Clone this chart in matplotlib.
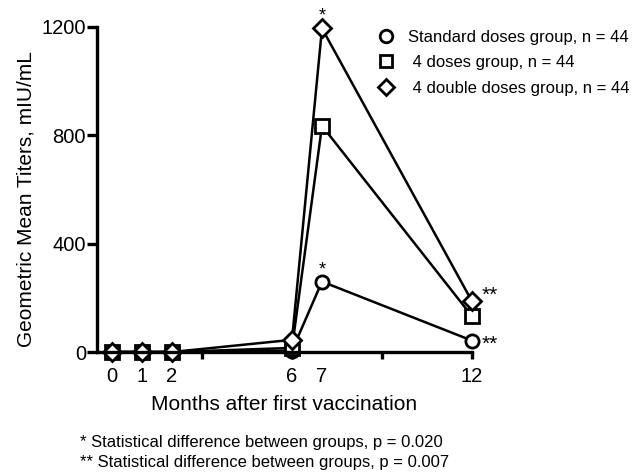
import matplotlib
matplotlib.use("Agg")
import matplotlib.pyplot as plt

plt.rcParams['font.family'] = ['Liberation Sans', 'DejaVu Sans']

# --- data ---
months = [0, 1, 2, 6, 7, 12]
standard = [0, 0, 0, 5, 260, 42]
four_doses = [0, 0, 0, 15, 835, 132]
double_doses = [0, 0, 0, 45, 1195, 187]

series_labels = ["Standard doses group, n = 44",
                 " 4 doses group, n = 44",
                 " 4 double doses group, n = 44"]
markers = ["o", "s", "D"]
yticks = [0, 400, 800, 1200]
xtick_marks = [0, 3, 6, 9, 12]
xtick_labels = [0, 1, 2, 6, 7, 12]

fig = plt.figure(figsize=(6.44, 4.76), dpi=100)
ax = fig.add_axes([97 / 644, 1 - 352 / 476, 375 / 644, 325 / 476])

for vals, m, lab in zip([standard, four_doses, double_doses], markers, series_labels):
    ms = 9 if m == "D" else 9.5
    ax.plot(months, vals, color="black", lw=1.8, marker=m, ms=ms,
            mfc="white", mec="black", mew=2, clip_on=False, label=lab)

ax.set_xlim(-0.5, 12)
ax.set_ylim(0, 1200)
for s in ["top", "right"]:
    ax.spines[s].set_visible(False)
for s in ["left", "bottom"]:
    ax.spines[s].set_linewidth(2.4)

ax.set_yticks(yticks)
ax.tick_params(axis="y", width=2.4, length=7, labelsize=14.5, pad=1)

# tick marks every 3 months, labels only at the visit months
ax.xaxis.remove_overlapping_locs = False
ax.set_xticks(xtick_marks)
ax.set_xticklabels([])
ax.tick_params(axis="x", which="major", width=2.4, length=5, direction="out")
ax.set_xticks(xtick_labels, minor=True)
ax.set_xticklabels([str(v) for v in xtick_labels], minor=True)
ax.tick_params(axis="x", which="minor", length=0, labelsize=14.5, pad=11)

ax.set_xlabel("Months after first vaccination", fontsize=15, labelpad=6)
ax.set_ylabel("Geometric Mean Titers, mIU/mL", fontsize=15)
ax.yaxis.set_label_coords(-0.165, 0.47)

# significance markers
ax.annotate("*", (7, double_doses[4]), xytext=(0, 3), textcoords="offset points",
            ha="center", va="bottom", fontsize=13, annotation_clip=False)
ax.annotate("*", (7, standard[4]), xytext=(0, 2), textcoords="offset points",
            ha="center", va="bottom", fontsize=13, annotation_clip=False)
ax.annotate("**", (12, double_doses[5]), xytext=(7, 4), textcoords="offset points",
            ha="left", va="center", fontsize=15, annotation_clip=False)
ax.annotate("**", (12, standard[5]), xytext=(7, -3), textcoords="offset points",
            ha="left", va="center", fontsize=15, annotation_clip=False)

leg = ax.legend(loc="upper left", bbox_to_anchor=(376 / 644, 1 - 30 / 476),
                bbox_transform=fig.transFigure, frameon=False, fontsize=12,
                handlelength=1.2, handletextpad=0.7, labelspacing=0.62,
                borderaxespad=0, borderpad=0, markerscale=0.95)
for h in leg.legend_handles:
    h.set_linestyle("none")

fig.text(80 / 644, 1 - 442 / 476, "* Statistical difference between groups, p = 0.020",
         fontsize=12, va="center")
fig.text(80 / 644, 1 - 463 / 476, "** Statistical difference between groups, p = 0.007",
         fontsize=12, va="center")

fig.savefig("out.png", dpi=100)
